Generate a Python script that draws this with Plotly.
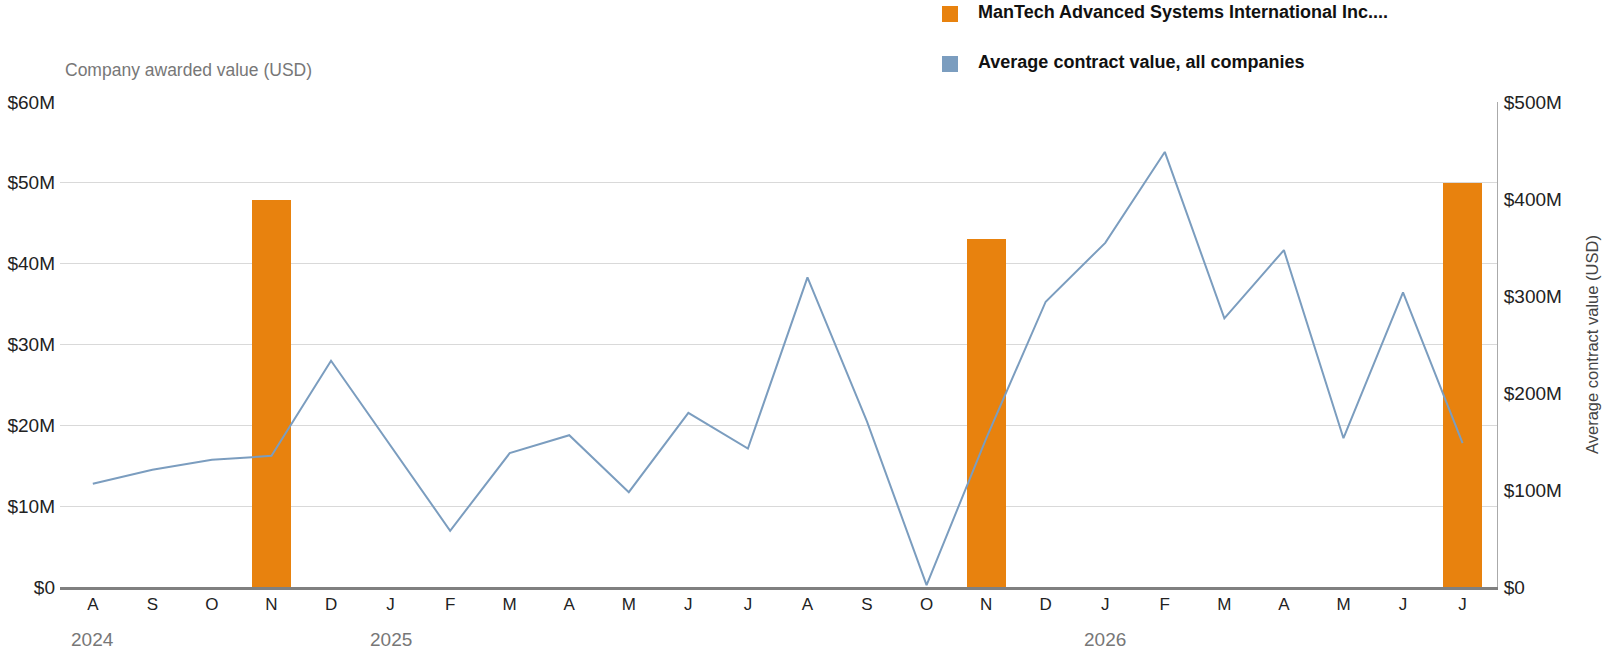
import plotly.graph_objects as go

# ---- data ----
months = ["2024-08", "2024-09", "2024-10", "2024-11", "2024-12",
          "2025-01", "2025-02", "2025-03", "2025-04", "2025-05", "2025-06", "2025-07",
          "2025-08", "2025-09", "2025-10", "2025-11", "2025-12",
          "2026-01", "2026-02", "2026-03", "2026-04", "2026-05", "2026-06", "2026-07"]
month_letters = ["A", "S", "O", "N", "D", "J", "F", "M", "A", "M", "J", "J",
                 "A", "S", "O", "N", "D", "J", "F", "M", "A", "M", "J", "J"]
# Company awarded value, millions USD
company_values = [0, 0, 0, 47.9, 0, 0, 0, 0, 0, 0, 0, 0,
                  0, 0, 0, 43.0, 0, 0, 0, 0, 0, 0, 0, 50.0]
# Average contract value, all companies, millions USD
avg_values = [106.4, 120.8, 131.1, 135.2, 233.3, 146.0, 58.0, 138.0, 156.5, 97.8, 179.5, 142.7,
              319.2, 170.5, 2.0, 153.0, 294.1, 354.8, 448.5, 277.0, 347.3, 153.4, 303.7, 148.3]
year_labels = ["2024", "2025", "2026"]
year_months = ["2024-08", "2025-01", "2026-01"]
left_ticks = [0, 10, 20, 30, 40, 50, 60]
left_ticktext = ["$0", "$10M", "$20M", "$30M", "$40M", "$50M", "$60M"]
right_ticks = [0, 100, 200, 300, 400, 500]
right_ticktext = ["$0", "$100M", "$200M", "$300M", "$400M", "$500M"]
series_names = ["ManTech Advanced Systems International Inc....", "Average contract value, all companies"]

ORANGE = "#E8820E"
BLUE = "#7B9DBF"
FONT = "Liberation Sans"

fig = go.Figure()
fig.add_trace(go.Bar(x=months, y=company_values, marker_color=ORANGE, width=0.655,
                     name=series_names[0], showlegend=False, yaxis="y"))
fig.add_trace(go.Scatter(x=months, y=avg_values, mode="lines", line=dict(color=BLUE, width=2),
                         name=series_names[1], showlegend=False, yaxis="y2"))

L, R, T, B = 60, 109, 102, 69
W, H = 1606, 656
pw, ph = W - L - R, H - T - B

def px(x):
    return (x - L) / pw

def py(y):
    return (H - B - y) / ph

annotations = [
    dict(text="Company awarded value (USD)", x=px(63), y=py(70), xref="paper", yref="paper",
         xanchor="left", yanchor="middle", showarrow=False, font=dict(family=FONT, size=17.5, color="#777777")),
    dict(text="Average contract value (USD)", x=px(1592), y=py(345), xref="paper", yref="paper",
         xanchor="center", yanchor="middle", textangle=-90, showarrow=False,
         font=dict(family=FONT, size=16.5, color="#444444")),
]
for lab, m in zip(year_labels, year_months):
    annotations.append(dict(text=lab, x=m, y=py(639), xref="x", yref="paper", xanchor="center",
                            yanchor="middle", showarrow=False,
                            font=dict(family=FONT, size=19, color="#777777")))
legend_y = [12, 62]
legend_colors = [ORANGE, BLUE]
shapes = []
for name, yy, c in zip(series_names, legend_y, legend_colors):
    annotations.append(dict(text="<b>" + name + "</b>", x=px(976), y=py(yy), xref="paper", yref="paper",
                            xanchor="left", yanchor="middle", showarrow=False,
                            font=dict(family=FONT, size=18, color="#111111")))
    shapes.append(dict(type="rect", xref="paper", yref="paper", x0=px(942), x1=px(958),
                       y0=py(yy + 10), y1=py(yy - 6), fillcolor=c, line=dict(width=0)))

fig.update_layout(
    template="none",
    width=W, height=H,
    margin=dict(l=L, r=R, t=T, b=B, pad=0),
    plot_bgcolor="white", paper_bgcolor="white",
    showlegend=False,
    bargap=0,
    xaxis=dict(type="category", categoryorder="array", categoryarray=months,
               tickvals=months, ticktext=month_letters, range=[-0.551, 23.578],
               automargin=False,
               showline=True, linecolor="#808080", linewidth=3, ticks="", showgrid=False,
               tickfont=dict(family=FONT, size=17, color="#222222")),
    yaxis=dict(range=[0, 60], tickvals=left_ticks, ticktext=left_ticktext, showgrid=True,
               automargin=False,
               gridcolor="#d9d9d9", gridwidth=1, zeroline=False, showline=False, ticks="",
               ticklabelstandoff=4, tickfont=dict(family=FONT, size=19, color="#222222")),
    yaxis2=dict(range=[0, 500], overlaying="y", side="right", tickvals=right_ticks,
                automargin=False,
                ticktext=right_ticktext, showgrid=False, zeroline=False, showline=True,
                linecolor="#aaaaaa", linewidth=1, ticks="", ticklabelstandoff=2,
                tickfont=dict(family=FONT, size=19, color="#222222")),
    annotations=annotations,
    shapes=shapes,
)

fig.write_html("out.html")
